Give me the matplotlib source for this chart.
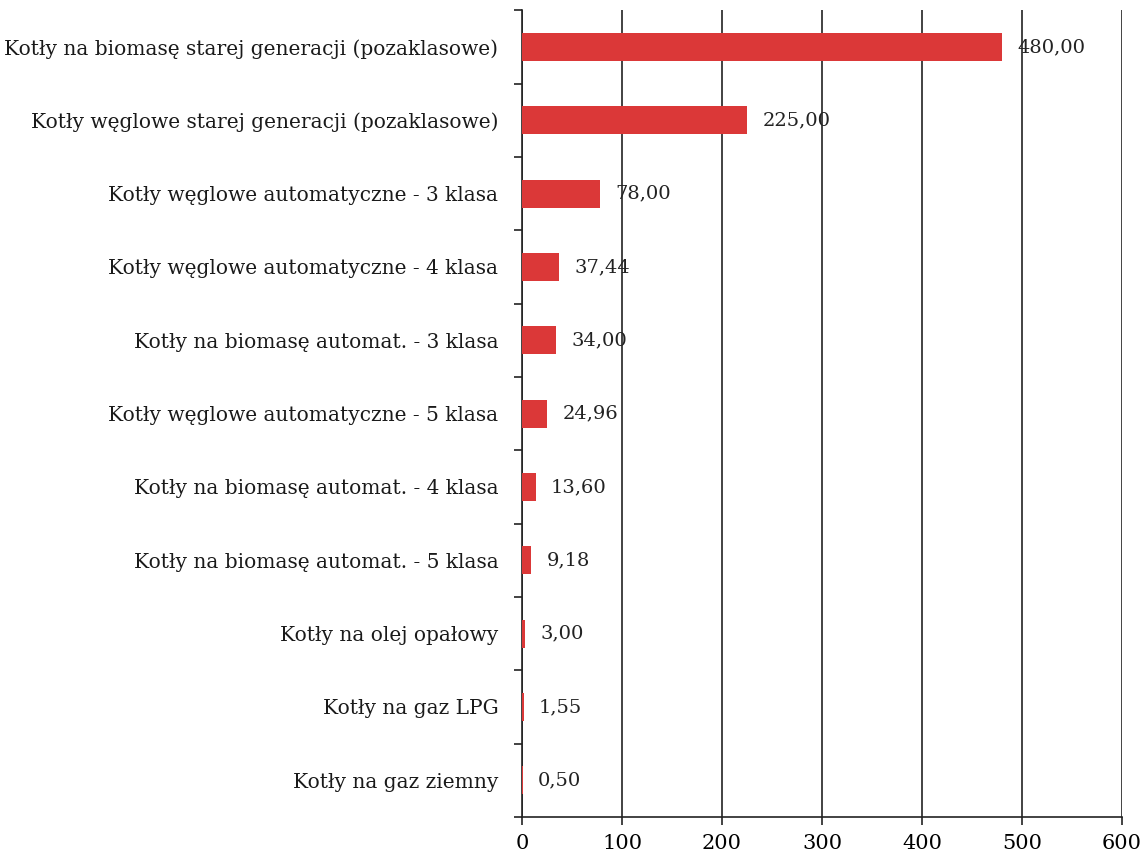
import matplotlib
matplotlib.use("Agg")
import matplotlib.pyplot as plt
from matplotlib.ticker import FixedLocator

categories = [
    "Kotły na biomasę starej generacji (pozaklasowe)",
    "Kotły węglowe starej generacji (pozaklasowe)",
    "Kotły węglowe automatyczne - 3 klasa",
    "Kotły węglowe automatyczne - 4 klasa",
    "Kotły na biomasę automat. - 3 klasa",
    "Kotły węglowe automatyczne - 5 klasa",
    "Kotły na biomasę automat. - 4 klasa",
    "Kotły na biomasę automat. - 5 klasa",
    "Kotły na olej opałowy",
    "Kotły na gaz LPG",
    "Kotły na gaz ziemny",
]
values = [480.00, 225.00, 78.00, 37.44, 34.00, 24.96, 13.60, 9.18, 3.00, 1.55, 0.50]
x_ticks = [0, 100, 200, 300, 400, 500, 600]

plt.rcParams["font.family"] = ["DejaVu Serif"]

fig = plt.figure(figsize=(11.43, 8.57), dpi=100)
ax = fig.add_axes([0.4567, 0.0467, 0.5249, 0.9413])

n = len(categories)
ypos = list(range(n))
ax.barh(ypos, values, height=0.38, color="#db3838", zorder=3)

ax.set_ylim(n - 0.5, -0.5)
ax.set_xlim(0, 600)
ax.set_xticks(x_ticks)
ax.set_xticklabels([str(t) for t in x_ticks], fontsize=15)
ax.grid(axis="x", color="#222222", linewidth=1.2, zorder=1)

ax.set_yticks(ypos)
ax.set_yticklabels(categories, fontsize=14.5, color="#1a1a1a")
ax.tick_params(axis="y", length=0, pad=17)
ax.yaxis.set_minor_locator(FixedLocator([i + 0.5 for i in range(-1, n)]))
ax.tick_params(axis="y", which="minor", length=6, width=1.2, color="#222222")
ax.tick_params(axis="x", length=6, width=1.2, color="#222222", pad=6)

for side in ["top", "right"]:
    ax.spines[side].set_visible(False)
for side in ["left", "bottom"]:
    ax.spines[side].set_color("#222222")
    ax.spines[side].set_linewidth(1.2)

for y, v in zip(ypos, values):
    ax.annotate(f"{v:.2f}".replace(".", ","), xy=(v, y), xytext=(11, 0),
                textcoords="offset points", va="center", ha="left", fontsize=14,
                color="#222222", zorder=4)

fig.savefig("out.png", dpi=100, facecolor="white")
